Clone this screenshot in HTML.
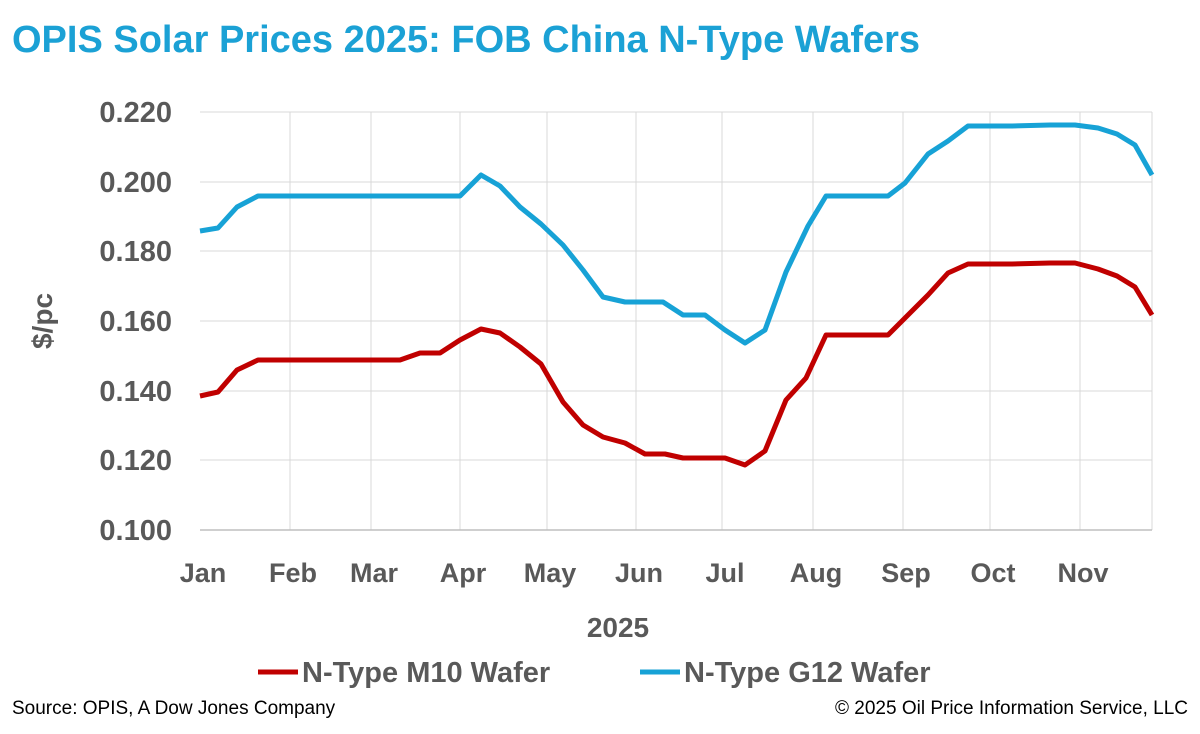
<!DOCTYPE html>
<html><head><meta charset="utf-8"><style>
body{margin:0;background:#fff;}
svg text{font-family:"Liberation Sans",Arial,sans-serif;}
</style></head><body>
<svg width="1200" height="729" viewBox="0 0 1200 729" xmlns="http://www.w3.org/2000/svg">
<rect width="1200" height="729" fill="#fff"/>
<text x="12" y="52" font-size="38" font-weight="bold" fill="#1ba1d5">OPIS Solar Prices 2025: FOB China N-Type Wafers</text>
<g stroke="#d9d9d9" stroke-width="1">
<line x1="200" y1="112" x2="1152" y2="112"/><line x1="200" y1="182" x2="1152" y2="182"/>
<line x1="200" y1="251" x2="1152" y2="251"/><line x1="200" y1="321" x2="1152" y2="321"/>
<line x1="200" y1="391" x2="1152" y2="391"/><line x1="200" y1="460" x2="1152" y2="460"/>
<line x1="290" y1="112" x2="290" y2="530"/><line x1="371" y1="112" x2="371" y2="530"/>
<line x1="460" y1="112" x2="460" y2="530"/><line x1="547" y1="112" x2="547" y2="530"/>
<line x1="636" y1="112" x2="636" y2="530"/><line x1="722" y1="112" x2="722" y2="530"/>
<line x1="813" y1="112" x2="813" y2="530"/><line x1="903" y1="112" x2="903" y2="530"/>
<line x1="990" y1="112" x2="990" y2="530"/><line x1="1080" y1="112" x2="1080" y2="530"/>
<line x1="1152" y1="112" x2="1152" y2="530"/>
</g>
<line x1="200" y1="530" x2="1152" y2="530" stroke="#bfbfbf" stroke-width="1.5"/>
<g font-size="29" font-weight="bold" fill="#595959" text-anchor="end">
<text x="172" y="122">0.220</text><text x="172" y="192">0.200</text><text x="172" y="261">0.180</text>
<text x="172" y="331">0.160</text><text x="172" y="401">0.140</text><text x="172" y="470">0.120</text>
<text x="172" y="540">0.100</text>
</g>
<g font-size="27" font-weight="bold" fill="#595959" text-anchor="middle">
<text x="203" y="582">Jan</text><text x="293" y="582">Feb</text><text x="374" y="582">Mar</text>
<text x="463" y="582">Apr</text><text x="550" y="582">May</text><text x="639" y="582">Jun</text>
<text x="725" y="582">Jul</text><text x="816" y="582">Aug</text><text x="906" y="582">Sep</text>
<text x="993" y="582">Oct</text><text x="1083" y="582">Nov</text>
<text x="618" y="637" font-size="28">2025</text>
</g>
<text transform="translate(52,321) rotate(-90)" font-size="28" font-weight="bold" fill="#595959" text-anchor="middle">$/pc</text>
<polyline fill="none" stroke="#17a2d6" stroke-width="5" stroke-linejoin="round" points="200,231 218,228 237,207 258,196 460,196 481,175 500,186 520,207 541,224 563,245 583,270 603,297 625,302 663,302 683,315 705,315 725,330 745,343 765,330 786,272 808,226 826,196 888,196 905,183 928,154 948,141 968,126 1012,126 1050,125 1075,125 1098,128 1117,134 1135,145 1152,175"/>
<polyline fill="none" stroke="#c00000" stroke-width="5" stroke-linejoin="round" points="200,396 218,392 237,370 258,360 400,360 420,353 440,353 460,340 481,329 500,333 520,347 541,364 563,402 583,425 603,437 625,443 645,454 665,454 683,458 725,458 745,465 765,451 786,400 806,378 826,335 888,335 908,315 928,295 948,273 968,264 1012,264 1050,263 1075,263 1098,269 1117,276 1135,287 1152,315"/>
<line x1="258" y1="672" x2="298" y2="672" stroke="#c00000" stroke-width="5"/>
<text x="302" y="682" font-size="29" font-weight="bold" fill="#595959">N-Type M10 Wafer</text>
<line x1="640" y1="672" x2="680" y2="672" stroke="#17a2d6" stroke-width="5"/>
<text x="684" y="682" font-size="29" font-weight="bold" fill="#595959">N-Type G12 Wafer</text>
<text x="12" y="714" font-size="19" fill="#000">Source: OPIS, A Dow Jones Company</text>
<text x="1188" y="714" font-size="19" fill="#000" text-anchor="end">© 2025 Oil Price Information Service, LLC</text>
</svg>
</body></html>
